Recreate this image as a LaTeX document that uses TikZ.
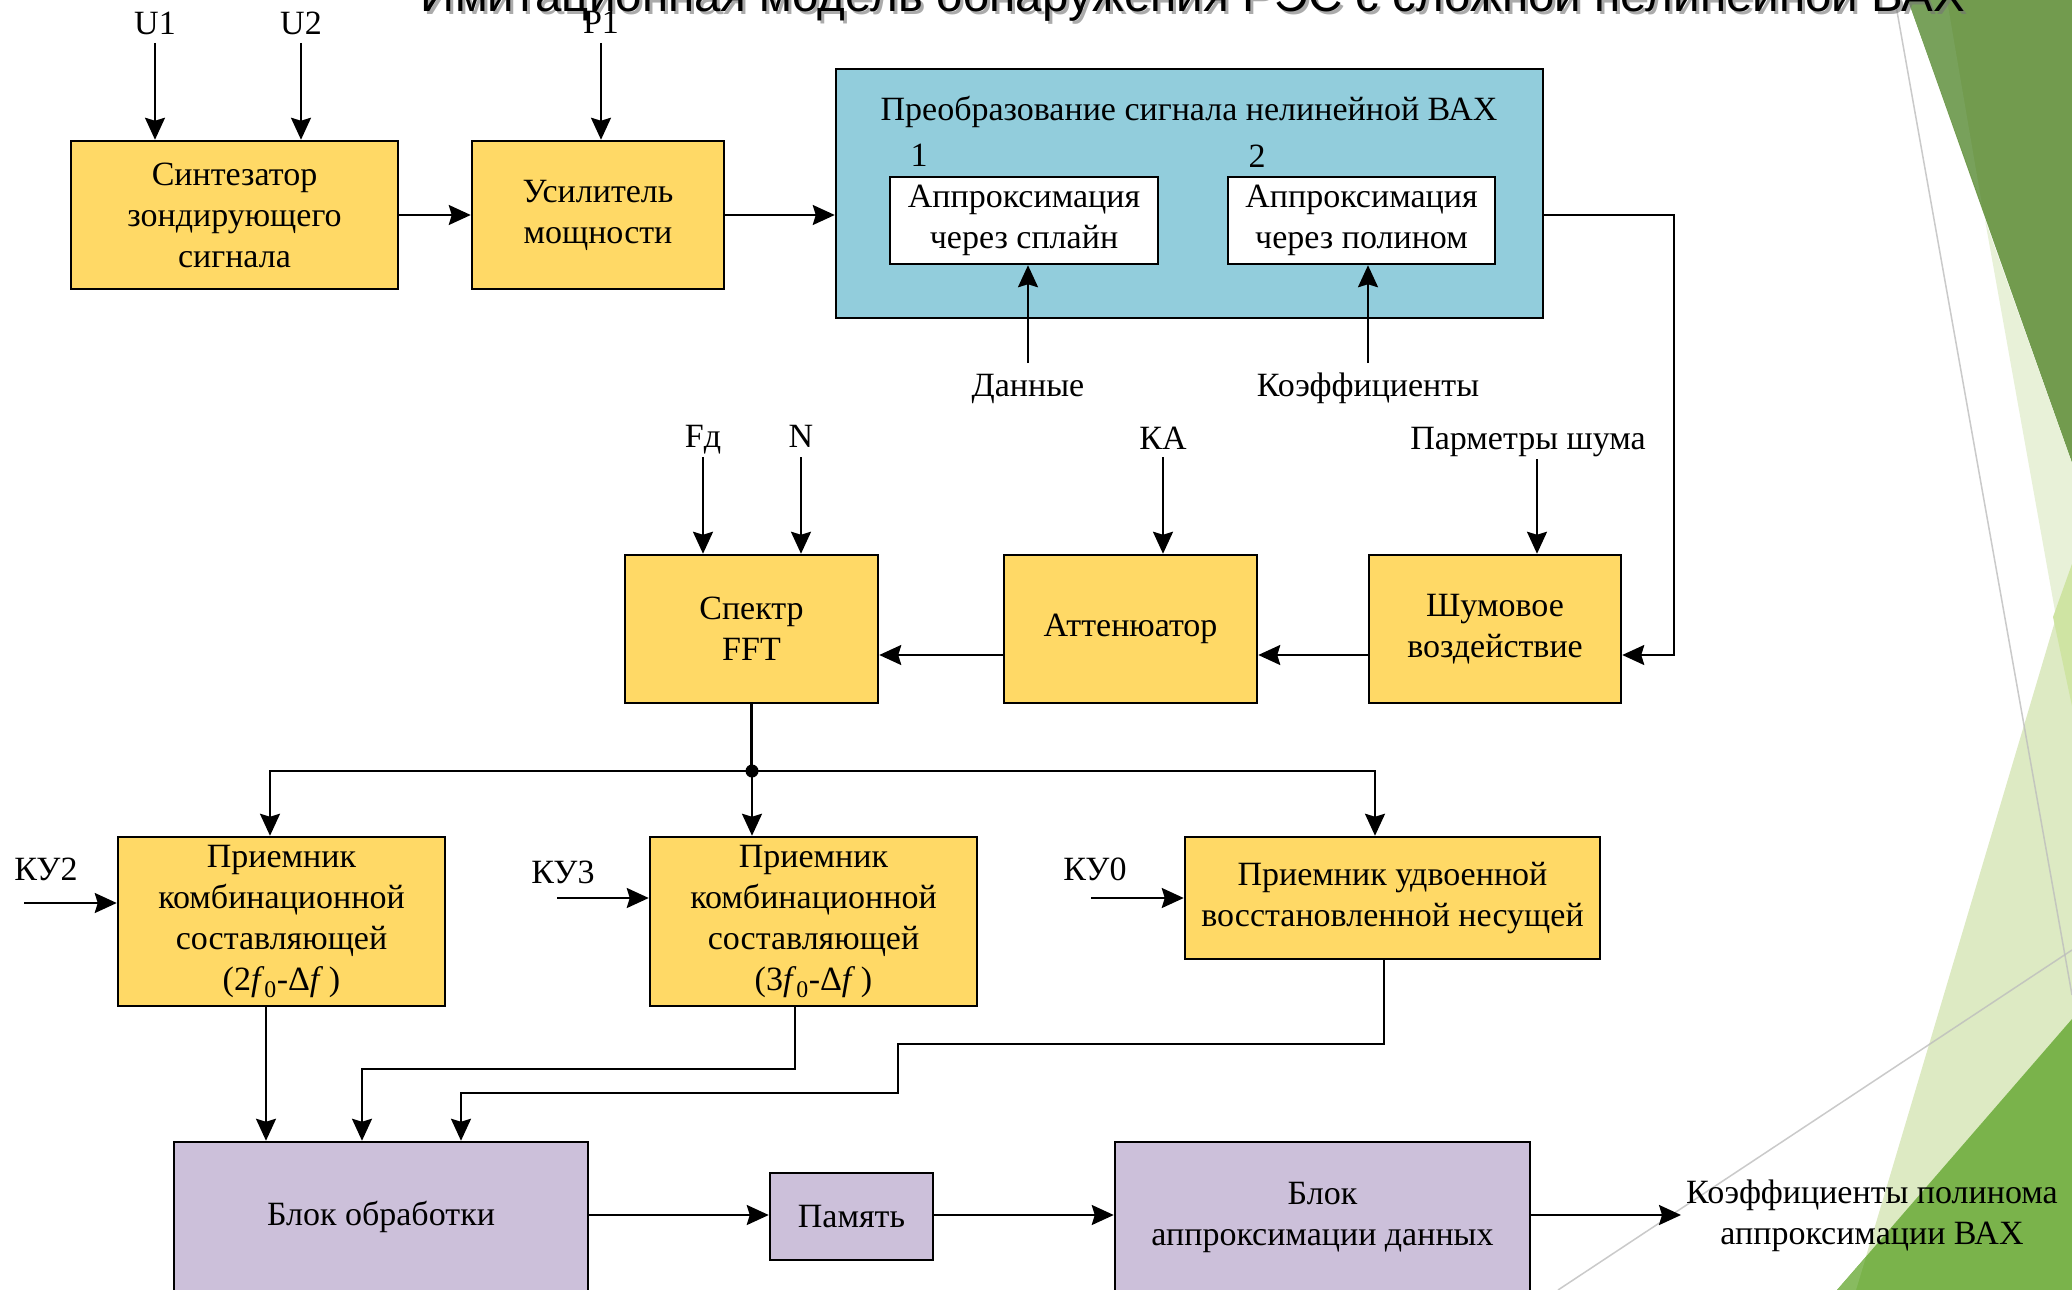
\documentclass[tikz,border=0pt]{standalone}
\usepackage{fontspec}
\setmainfont{Liberation Serif}
\newfontfamily\ttlfont{Liberation Sans}
\usetikzlibrary{arrows.meta}
\definecolor{ylw}{HTML}{FFD966}
\definecolor{blu}{HTML}{92CDDC}
\definecolor{prp}{HTML}{CCC0DA}
\definecolor{dkg}{HTML}{729B4E}
\definecolor{dkgb}{HTML}{78A15B}
\definecolor{pale}{HTML}{E8F1D8}
\definecolor{lgr}{HTML}{DDEAC3}
\definecolor{ovl}{HTML}{CFE4A3}
\definecolor{brg}{HTML}{7AB34B}
\definecolor{brgb}{HTML}{88BB60}
\definecolor{gry}{HTML}{BDBDBD}
\newcommand\dgf{\fontsize{34}{41}\selectfont}
\newcommand\ttlsz{\fontsize{47.5}{50}\selectfont}
\begin{document}
\begin{tikzpicture}[x=1pt,y=-1pt,
  box/.style={draw=black,line width=2.5pt,align=center,inner sep=0pt,font=\dgf},
  ybox/.style={box,fill=ylw},
  pbox/.style={box,fill=prp},
  wbox/.style={box,fill=white},
  lbl/.style={font=\dgf,inner sep=0pt},
  arr/.style={line width=2.2pt,-{Stealth[length=22pt,width=20pt,inset=3pt]}},
  ln/.style={line width=2.2pt},
  deco/.style={draw=gry,line width=1.5pt,opacity=0.8}
]
\useasboundingbox (0,0) rectangle (2072,1290);
\fill[white] (0,0) rectangle (2072,1290);
\begin{scope}
\clip (0,0) rectangle (2072,1290);
% background decoration
\fill[dkg] (1908,0) -- (2072,0) -- (2072,463) -- cycle;
\fill[dkgb] (1908,0) -- (1947,0) -- (1982,205) -- cycle;
\fill[pale] (1985,220) -- (2072,463) -- (2072,706) -- cycle;
\fill[lgr] (2072,564) -- (1856,1290) -- (2072,1290) -- cycle;
\fill[ovl] (2072,564) -- (2053,617) -- (2072,706) -- cycle;
\fill[brg] (2072,1019) -- (1837,1290) -- (2072,1290) -- cycle;
\fill[brgb] (1837,1290) -- (1856,1290) -- (1866,1257) -- cycle;
\draw[deco] (1895,0) -- (2072,995);
\draw[deco] (1558,1290) -- (2072,950);
% title
\node[font=\ttlfont\ttlsz,anchor=base,inner sep=0pt,text=black!55,opacity=0.6] (ttlsh) at (1196,15) {Имитационная модель обнаружения РЭС с сложной нелинейной ВАХ};
\node[font=\ttlfont\ttlsz,anchor=base,inner sep=0pt] (ttl) at (1193,11.5) {Имитационная модель обнаружения РЭС с сложной нелинейной ВАХ};
\end{scope}

% top row
\node[ybox,minimum width=327pt,minimum height=148pt] (syn) at (234.5,215) {Синтезатор\\зондирующего\\сигнала};
\node[ybox,minimum width=252pt,minimum height=148pt] (amp) at (598,215) {Усилитель\\мощности};
\node[box,fill=blu,minimum width=707pt,minimum height=249pt] (conv) at (1189.5,193.5) {};
\node[lbl,anchor=base] (convt) at (1189,120) {Преобразование сигнала нелинейной ВАХ};
\node[lbl,anchor=base] (n1) at (919,166) {1};
\node[lbl,anchor=base] (n2) at (1257,167) {2};
\node[wbox,minimum width=268pt,minimum height=87pt] (ap1) at (1024,220.5) {Аппроксимация\\через сплайн};
\node[wbox,minimum width=267pt,minimum height=87pt] (ap2) at (1361.5,220.5) {Аппроксимация\\через полином};

\node[lbl,anchor=base] (U1) at (155,35) {U1};
\node[lbl,anchor=base] (U2) at (301,35) {U2};
\node[lbl,anchor=base] (P1) at (601,34) {P1};
\coordinate (U1a) at (155,43);
\coordinate (U2a) at (301,43);
\coordinate (P1a) at (601,43);
\draw[arr] (U1a) -- (U1a |- syn.north);
\draw[arr] (U2a) -- (U2a |- syn.north);
\draw[arr] (P1a) -- (P1a |- amp.north);
\draw[arr] (syn.east) -- (amp.west);
\draw[arr] (amp.east) -- (amp.east -| conv.west);

\node[lbl,anchor=base] (dat) at (1028,396) {Данные};
\node[lbl,anchor=base] (cof) at (1368,396) {Коэффициенты};
\coordinate (data) at (1028,363);
\coordinate (cofa) at (1368,363);
\draw[arr] (data) -- (data |- ap1.south);
\draw[arr] (cofa) -- (cofa |- ap2.south);

% middle row
\node[ybox,minimum width=252pt,minimum height=148pt] (noise) at (1495,629) {Шумовое\\воздействие};
\node[ybox,minimum width=253pt,minimum height=148pt] (att) at (1130.5,629) {Аттенюатор};
\node[ybox,minimum width=253pt,minimum height=148pt] (fft) at (751.5,629) {Спектр\\FFT};

\node[lbl,anchor=base] (Fd) at (703,447) {Fд};
\node[lbl,anchor=base] (NN) at (801,447) {N};
\node[lbl,anchor=base] (KA) at (1163,449) {КА};
\node[lbl,anchor=base] (pn) at (1528,449) {Парметры шума};
\coordinate (Fda) at (703,457);
\coordinate (NNa) at (801,457);
\coordinate (KAa) at (1163,457);
\coordinate (pna) at (1537,459);
\draw[arr] (Fda) -- (Fda |- fft.north);
\draw[arr] (NNa) -- (NNa |- fft.north);
\draw[arr] (KAa) -- (KAa |- att.north);
\draw[arr] (pna) -- (pna |- noise.north);

\coordinate (tr) at (1674,215);
\coordinate (ry) at (0,655);
\draw[arr] (conv.east |- tr) -- (tr) -- (tr |- ry) -- (noise.east |- ry);
\draw[arr] (noise.west |- ry) -- (att.east |- ry);
\draw[arr] (att.west |- ry) -- (fft.east |- ry);

% receivers
\node[ybox,minimum width=327pt,minimum height=169pt] (r1) at (281.5,921.5) {Приемник\\комбинационной\\составляющей\\(2\textit{f}\textsubscript{0}-Δ\textit{f}\,)};
\node[ybox,minimum width=327pt,minimum height=169pt] (r2) at (813.5,921.5) {Приемник\\комбинационной\\составляющей\\(3\textit{f}\textsubscript{0}-Δ\textit{f}\,)};
\node[ybox,minimum width=415pt,minimum height=122pt] (r3) at (1392.5,898) {Приемник удвоенной\\восстановленной несущей};

\coordinate (J) at (752,771);
\coordinate (jl) at (270,771);
\coordinate (jr) at (1375,771);
\draw[ln] (fft.south) -- (fft.south |- J);
\fill (J) circle (6.5pt);
\draw[arr] (J) -- (jl) -- (jl |- r1.north);
\draw[arr] (J) -- (J |- r2.north);
\draw[arr] (J) -- (jr) -- (jr |- r3.north);

\node[lbl,anchor=base] (ku2) at (46,880) {КУ2};
\node[lbl,anchor=base] (ku3) at (563,883) {КУ3};
\node[lbl,anchor=base] (ku0) at (1095,880) {КУ0};
\coordinate (ku2a) at (24,903);
\coordinate (ku3a) at (557,898);
\coordinate (ku0a) at (1091,898);
\draw[arr] (ku2a) -- (ku2a -| r1.west);
\draw[arr] (ku3a) -- (ku3a -| r2.west);
\draw[arr] (ku0a) -- (ku0a -| r3.west);

% bottom row
\node[pbox,minimum width=414pt,minimum height=150pt] (proc) at (381,1217) {Блок обработки};
\node[pbox,minimum width=163pt,minimum height=87pt] (mem) at (851.5,1216.5) {Память};
\node[pbox,minimum width=415pt,minimum height=150pt] (apx) at (1322.5,1217) {Блок\\аппроксимации данных};
\node[lbl,align=center,inner sep=5pt] (out) at (1872,1216) {Коэффициенты полинома\\аппроксимации ВАХ};

\coordinate (k1) at (266,1006);
\draw[arr] (k1 |- r1.south) -- (k1 |- proc.north);
\coordinate (k2a) at (795,1069);
\coordinate (k2b) at (362,1069);
\draw[arr] (k2a |- r2.south) -- (k2a) -- (k2b) -- (k2b |- proc.north);
\coordinate (k3a) at (1384,1044);
\coordinate (k3b) at (898,1044);
\coordinate (k3c) at (898,1093);
\coordinate (k3d) at (461,1093);
\draw[arr] (k3a |- r3.south) -- (k3a) -- (k3b) -- (k3c) -- (k3d) -- (k3d |- proc.north);

\coordinate (by) at (0,1215);
\draw[arr] (proc.east |- by) -- (mem.west |- by);
\draw[arr] (mem.east |- by) -- (apx.west |- by);
\draw[arr] (apx.east |- by) -- (out.west |- by);
\end{tikzpicture}
\end{document}
